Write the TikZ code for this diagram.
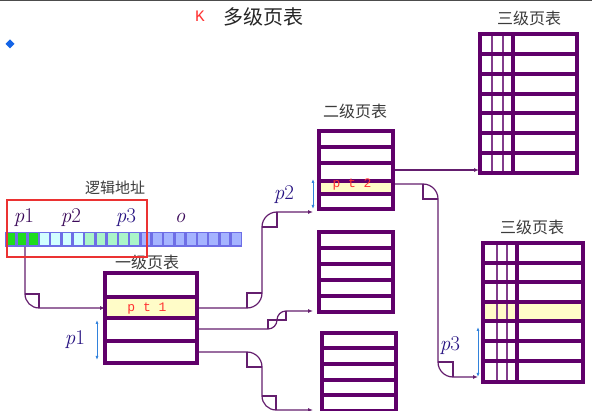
\documentclass[tikz,border=0pt]{standalone}
\usepackage{fontspec}
\newfontfamily\cjk{Noto Sans CJK SC}
\newfontfamily\mono{Liberation Mono}
\usetikzlibrary{arrows.meta}
\definecolor{tabc}{RGB}{96,0,106}
\definecolor{conc}{RGB}{100,30,110}
\definecolor{thinc}{RGB}{130,60,140}
\definecolor{yel}{RGB}{255,252,200}
\definecolor{pblue}{RGB}{40,20,130}
\definecolor{ppurp}{RGB}{60,10,90}
\definecolor{dblue}{RGB}{50,130,220}
\definecolor{rred}{RGB}{235,50,50}
\definecolor{txtred}{RGB}{255,50,50}
\definecolor{gtxt}{RGB}{60,60,60}
\definecolor{barb}{RGB}{110,110,230}
\definecolor{ca}{RGB}{30,220,30}
\definecolor{cb}{RGB}{210,255,255}
\definecolor{cc}{RGB}{170,245,200}
\definecolor{cd}{RGB}{165,180,255}
\definecolor{diac}{RGB}{20,100,230}
\begin{document}
\begin{tikzpicture}[x=1pt,y=-1pt,
  tbl/.style={draw=tabc, line width=3.2},
  thinv/.style={draw=thinc, line width=1.2},
  conn/.style={draw=conc, line width=1.2},
  arr/.style={conn, -{Latex[length=5,width=4]}},
  dbl/.style={draw=dblue, line width=0.9, {Latex[length=4,width=3]}-{Latex[length=4,width=3]}},
  cjklab/.style={text=gtxt, font=\cjk\fontsize{16}{18}\selectfont, inner sep=0},
  plab/.style={text=pblue, font=\fontsize{21}{24}\selectfont, inner sep=0},
  ptlab/.style={text=txtred, font=\mono\fontsize{13}{15}\selectfont, inner sep=0}]
\useasboundingbox (0,0) rectangle (592,411);
\fill[white] (0,0) rectangle (592,411);
\draw[gray!60!black, line width=1.5] (0,0.75) -- (592,0.75);

% title
\node[text=txtred, font=\mono\fontsize{16}{18}\selectfont, inner sep=0] (k) at (200,16) {K};
\node[text=black!85, font=\cjk\fontsize{20}{24}\selectfont, inner sep=0] (title) at (263,17) {多级页表};
\fill[diac] (10,39.5) -- (14.5,44) -- (10,48.5) -- (5.5,44) -- cycle;

% logical address
\node[cjklab, font=\cjk\fontsize{15}{17}\selectfont] (la) at (115,188) {逻辑地址};
\node[plab, text=ppurp] (lp1) at (24,218) {\textit{p}1};
\node[plab, text=ppurp] (lp2) at (71,218) {\textit{p}2};
\node[plab] (lp3) at (126,218) {\textit{p}3};
\node[plab, text=ppurp] (lo) at (180,218) {\textit{o}};
\fill[barb] (5,232) rectangle (242,247);
\foreach \i in {0,...,20} {
  \pgfmathsetmacro{\xa}{5+\i*11.286+1.3}
  \pgfmathsetmacro{\xb}{5+(\i+1)*11.286-1.3}
  \ifnum\i<3 \def\cc{ca}\else\ifnum\i<7 \def\cc{cb}\else\ifnum\i<12 \def\cc{cc}\else\def\cc{cd}\fi\fi\fi
  \fill[\cc] (\xa,233.5) rectangle (\xb,245.5);
}

% connector coordinates
\coordinate (bA) at (25,247);
\coordinate (t1in) at (105,308);
\coordinate (t1r2) at (197,308);
\coordinate (t1r3) at (197,329);
\coordinate (t1r4) at (197,352);
\coordinate (t2ain) at (313,212);
\coordinate (t2bin) at (313,311);
\coordinate (t2cin) at (313,410);
\coordinate (t2ar3) at (393,170);
\coordinate (t2ar4) at (393,184);
\coordinate (t3ain) at (479,170);
\coordinate (t3bin) at (478,377);

% connectors
\draw[arr] (bA) -- (25,294) .. controls (25,301.7) and (31.3,308) .. (39,308) -- (t1in);
\draw[conn] (25,294) -- (39,294) -- (39,308);

\draw[arr] (t1r2) -- (247,308) .. controls (255.3,308) and (262,301.3) .. (262,293)
  -- (262,227) .. controls (262,218.7) and (268.7,212) .. (277,212) -- (t2ain);
\draw[conn] (262,293) -- (247,293) -- (247,308);
\draw[conn] (262,227) -- (277,227) -- (277,212);

\draw[arr] (t1r3) -- (268,329) .. controls (273,329) and (277,325) .. (277,320)
  .. controls (277,315) and (281,311) .. (286,311) -- (t2bin);
\draw[conn] (277,320) -- (268,320) -- (268,329);
\draw[conn] (277,320) -- (286,320) -- (286,311);

\draw[arr] (t1r4) -- (247,352) .. controls (255.3,352) and (262,358.7) .. (262,367)
  -- (262,396) .. controls (262,403.7) and (268.3,410) .. (276,410) -- (t2cin);
\draw[conn] (247,352) -- (247,367) -- (262,367);
\draw[conn] (262,396) -- (276,396) -- (276,410);

\draw[arr] (t2ar3) -- (t3ain);
\draw[arr] (t2ar4) -- (423,184) .. controls (431.3,184) and (438,190.7) .. (438,199)
  -- (438,362) .. controls (438,370.3) and (444.7,377) .. (453,377) -- (t3bin);
\draw[conn] (423,184) -- (423,199) -- (438,199);
\draw[conn] (438,362) -- (453,362) -- (453,377);

% first-level table
\node[cjklab] (l1) at (147,262) {一级页表};
\fill[white] (105,273) rectangle (197,363);
\fill[yel] (105,297) rectangle (197,318);
\draw[tbl] (105,273) rectangle (197,363);
\foreach \y in {297,318,341} \draw[tbl] (105,\y) -- (197,\y);
\node[ptlab] (pt1) at (147,309) {p t 1};
\draw[dbl] (97,320) -- (97,360);
\node[plab] (p1) at (75,340) {\textit{p}1};

% second-level tables
\node[cjklab] (l2) at (355,111) {二级页表};
\fill[white] (319,131) rectangle (393,209);
\fill[yel] (319,181) rectangle (393,194);
\draw[tbl] (319,131) rectangle (393,209);
\foreach \y in {147,163,181,194} \draw[tbl] (319,\y) -- (393,\y);
\draw[tbl] (319,163.5) -- (393,163.5);
\node[ptlab] (pt2) at (352,185) {p t 2};
\draw[dbl] (313,179) -- (313,209);
\node[plab] (p2) at (284,195) {\textit{p}2};

\fill[white] (319,232) rectangle (393,312);
\draw[tbl] (319,232) rectangle (393,312);
\foreach \y in {248,264,280,296} \draw[tbl] (319,\y) -- (393,\y);

\fill[white] (322,333) rectangle (396,411);
\draw[tbl] (322,333) rectangle (396,411);
\foreach \y in {348,364,380,395} \draw[tbl] (322,\y) -- (396,\y);

% third-level tables
\node[cjklab] (l3a) at (529,18) {三级页表};
\fill[white] (480,34) rectangle (577,173);
\draw[thinv] (492,34) -- (492,173);
\draw[thinv] (503,34) -- (503,173);
\draw[tbl] (480,34) rectangle (577,173);
\foreach \y in {54,74,94,113,133,153} \draw[tbl] (480,\y) -- (577,\y);
\draw[tbl] (513,34) -- (513,173);

\node[cjklab] (l3b) at (532,227) {三级页表};
\fill[white] (483,243) rectangle (583,382);
\fill[yel] (483,302) rectangle (583,321);
\draw[thinv] (497,243) -- (497,382);
\draw[thinv] (507,243) -- (507,382);
\draw[tbl] (483,243) rectangle (583,382);
\foreach \y in {263,282,302,321,341,361} \draw[tbl] (483,\y) -- (583,\y);
\draw[tbl] (517,243) -- (517,382);
\draw[dbl] (478,327) -- (478,377);
\node[plab] (p3) at (450,346) {\textit{p}3};

% red frame
\draw[rred, line width=2] (7,200) rectangle (147,257);
\end{tikzpicture}
\end{document}
